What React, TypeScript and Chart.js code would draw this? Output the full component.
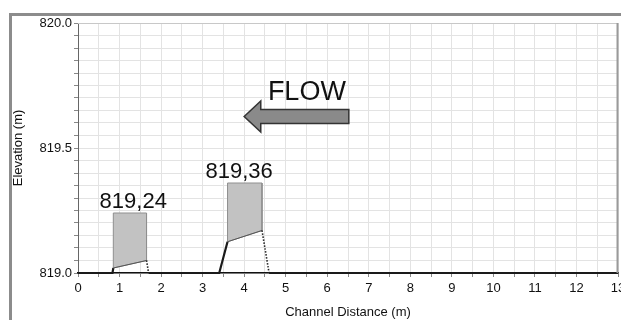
import React, { useEffect, useRef } from 'react';
import { Chart, registerables } from 'chart.js';

Chart.register(...registerables);

// Ground profile (channel distance in m, elevation in m)
const groundX = [0, 0.83, 0.85, 1.65, 1.7, 3.4, 3.6, 4.43, 4.6, 13];
const groundY = [819, 819, 819.02, 819.05, 819, 819, 819.125, 819.17, 819, 819];
// segment kind for each span between consecutive ground points
const groundSegKind = ['solid', 'solid', 'block', 'dotted', 'solid', 'solid', 'block', 'dotted', 'solid'];

// Grey blocks (weirs)
const blockLeft = [0.85, 3.6];
const blockRight = [1.65, 4.43];
const blockTop = [819.24, 819.36];
const blockBottomLeft = [819.02, 819.125];
const blockBottomRight = [819.05, 819.17];
const blockLabelX = [1.33, 3.88];

// Flow arrow annotation (data units)
const flowText = 'FLOW';
const flowTextX = 5.51;
const flowTextY = 819.692;
const arrowTipX = 4.0;
const arrowHeadX = 4.4;
const arrowTailX = 6.52;
const arrowY = 819.626;
const arrowShaftHalf = 0.028;
const arrowHeadHalf = 0.062;

// Axes
const xMin = 0;
const xMax = 13;
const xStep = 0.5;
const yMin = 819;
const yMax = 820;
const yStep = 0.05;

const FONT = '"Liberation Sans", Arial, Helvetica, sans-serif';

const annotationPlugin = {
  id: 'annotations',
  beforeDraw(chart: any) {
    const ctx = chart.ctx;
    ctx.save();
    ctx.strokeStyle = '#8c8c8c';
    ctx.lineWidth = 3;
    ctx.strokeRect(10.5, 14.5, 800, 500);
    ctx.restore();
  },
  afterDatasetsDraw(chart: any) {
    const { ctx, chartArea, scales } = chart;
    const x = scales.x;
    const y = scales.y;
    ctx.save();
    // plot frame top & right
    ctx.strokeStyle = '#c8c8c8';
    ctx.lineWidth = 1;
    ctx.beginPath();
    ctx.moveTo(chartArea.left, chartArea.top + 0.5);
    ctx.lineTo(chartArea.right, chartArea.top + 0.5);
    ctx.stroke();
    ctx.strokeStyle = '#9a9a9a';
    ctx.lineWidth = 2;
    ctx.beginPath();
    ctx.moveTo(chartArea.right - 0.5, chartArea.top);
    ctx.lineTo(chartArea.right - 0.5, chartArea.bottom);
    ctx.stroke();

    // block labels
    ctx.fillStyle = '#111';
    ctx.font = '22px ' + FONT;
    ctx.textAlign = 'center';
    ctx.textBaseline = 'alphabetic';
    blockTop.forEach((t, i) => {
      const label = t.toFixed(2).replace('.', ',');
      ctx.fillText(label, x.getPixelForValue(blockLabelX[i]), y.getPixelForValue(t) - 5);
    });

    // FLOW text
    ctx.font = '27px ' + FONT;
    ctx.fillText(flowText, x.getPixelForValue(flowTextX), y.getPixelForValue(flowTextY));

    // arrow
    const px = (v: number) => x.getPixelForValue(v);
    const py = (v: number) => y.getPixelForValue(v);
    ctx.beginPath();
    ctx.moveTo(px(arrowTipX), py(arrowY));
    ctx.lineTo(px(arrowHeadX), py(arrowY + arrowHeadHalf));
    ctx.lineTo(px(arrowHeadX), py(arrowY + arrowShaftHalf));
    ctx.lineTo(px(arrowTailX), py(arrowY + arrowShaftHalf));
    ctx.lineTo(px(arrowTailX), py(arrowY - arrowShaftHalf));
    ctx.lineTo(px(arrowHeadX), py(arrowY - arrowShaftHalf));
    ctx.lineTo(px(arrowHeadX), py(arrowY - arrowHeadHalf));
    ctx.closePath();
    ctx.fillStyle = '#8a8a8a';
    ctx.fill();
    ctx.strokeStyle = '#333';
    ctx.lineWidth = 1.5;
    ctx.lineJoin = 'miter';
    ctx.stroke();
    ctx.restore();
  },
};

export default function App() {
  const canvasRef = useRef<HTMLCanvasElement | null>(null);

  useEffect(() => {
    const canvas = canvasRef.current;
    if (!canvas) return;

    const groundData = groundX.map((v, i) => ({ x: v, y: groundY[i] }));
    const segStyle = (kind: string) => {
      if (kind === 'block') return { color: '#555', width: 1, dash: [] as number[] };
      if (kind === 'dotted') return { color: '#222', width: 1.6, dash: [1.5, 1.5] };
      return { color: '#1a1a1a', width: 2.2, dash: [] as number[] };
    };

    const blockDatasets = blockLeft.map((l, i) => ({
      label: 'block' + i,
      data: [
        { x: l, y: blockBottomLeft[i] },
        { x: l, y: blockTop[i] },
        { x: blockRight[i], y: blockTop[i] },
        { x: blockRight[i], y: blockBottomRight[i] },
        { x: l, y: blockBottomLeft[i] },
      ],
      showLine: true,
      fill: 'shape',
      backgroundColor: '#c2c2c2',
      borderColor: '#8f8f8f',
      borderWidth: 1,
      pointRadius: 0,
      tension: 0,
      clip: false,
    }));

    const chart = new Chart(canvas, {
      type: 'scatter',
      data: {
        datasets: [
          {
            label: 'ground',
            data: groundData,
            showLine: true,
            fill: false,
            borderColor: '#1a1a1a',
            borderWidth: 2.2,
            pointRadius: 0,
            tension: 0,
            clip: false,
            segment: {
              borderColor: (c: any) => segStyle(groundSegKind[c.p0DataIndex]).color,
              borderWidth: (c: any) => segStyle(groundSegKind[c.p0DataIndex]).width,
              borderDash: (c: any) => segStyle(groundSegKind[c.p0DataIndex]).dash,
            },
          } as any,
          ...(blockDatasets as any[]),
        ],
      },
      options: {
        animation: false,
        responsive: false,
        maintainAspectRatio: false,
        layout: { padding: { left: 0, top: 23, right: 3, bottom: 0 } },
        plugins: {
          legend: { display: false },
          tooltip: { enabled: false },
        },
        scales: {
          x: {
            type: 'linear',
            min: xMin,
            max: xMax,
            afterFit: (s: any) => {
              s.height = 47;
              s.paddingLeft = 0;
              s.paddingRight = 0;
            },
            ticks: {
              stepSize: xStep,
              autoSkip: false,
              maxRotation: 0,
              padding: 4,
              color: '#111',
              font: { family: FONT, size: 13 },
              callback: (v: any) => {
                const n = Number(v);
                return Math.abs(n - Math.round(n)) < 1e-6 ? String(Math.round(n)) : '';
              },
            },
            grid: {
              color: '#e3e3e3',
              tickColor: '#888',
              tickLength: 4,
              lineWidth: 1,
            },
            border: { color: '#111', width: 1.5 },
            title: {
              display: true,
              text: 'Channel Distance (m)',
              color: '#111',
              font: { family: FONT, size: 13 },
              padding: { top: 0, bottom: 0 },
            },
          },
          y: {
            type: 'linear',
            min: yMin,
            max: yMax,
            afterFit: (s: any) => {
              s.width = 78;
              s.paddingTop = 0;
              s.paddingBottom = 0;
            },
            ticks: {
              stepSize: yStep,
              maxTicksLimit: 100,
              autoSkip: false,
              padding: 2,
              color: '#111',
              font: { family: FONT, size: 13 },
              callback: (v: any) => {
                const n = Number(v) * 2;
                return Math.abs(n - Math.round(n)) < 1e-6 ? (Math.round(n) / 2).toFixed(1) : '';
              },
            },
            grid: {
              color: '#e3e3e3',
              tickColor: '#888',
              tickLength: 4,
              lineWidth: 1,
            },
            border: { color: '#666', width: 1 },
            title: {
              display: true,
              text: 'Elevation (m)',
              color: '#111',
              font: { family: FONT, size: 13 },
              padding: { top: 11, bottom: 0 },
            },
          },
        },
      },
      plugins: [annotationPlugin],
    } as any);

    return () => {
      chart.destroy();
    };
  }, []);

  return (
    <div style={{ position: 'fixed', left: 0, top: 0, width: 621, height: 320, background: '#fff' }}>
      <canvas ref={canvasRef} width={621} height={320} style={{ display: 'block', width: 621, height: 320 }} />
    </div>
  );
}
